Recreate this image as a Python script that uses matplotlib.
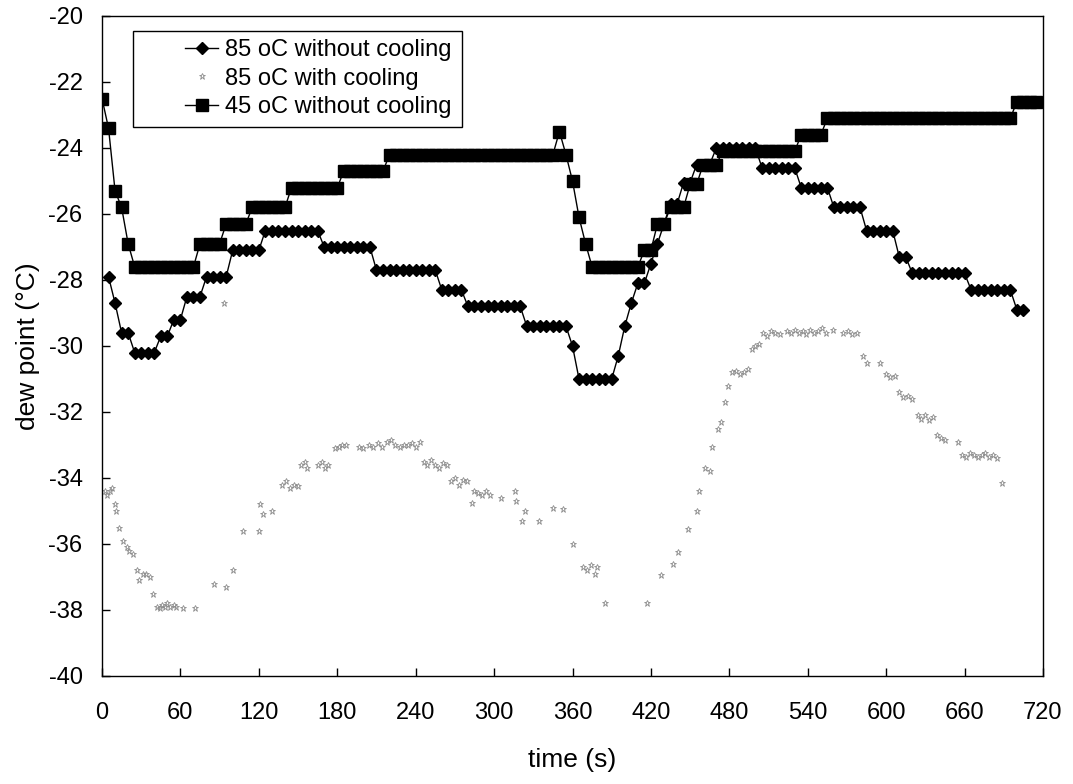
import numpy as np
import matplotlib
matplotlib.use("Agg")
import matplotlib.pyplot as plt
from matplotlib.patches import Rectangle

plt.rcParams['font.family'] = ['Liberation Sans', 'DejaVu Sans']
plt.rcParams['axes.unicode_minus'] = False

# 45 oC without cooling, sampled every 5 s from t = 0
t_45 = np.arange(0, 720, 5)
dew_45 = [
    -22.5, -23.4, -25.3, -25.8, -26.9, -27.6, -27.6, -27.6, -27.6, -27.6,
    -27.6, -27.6, -27.6, -27.6, -27.6, -26.9, -26.9, -26.9, -26.9, -26.3,
    -26.3, -26.3, -26.3, -25.8, -25.8, -25.8, -25.8, -25.8, -25.8, -25.2,
    -25.2, -25.2, -25.2, -25.2, -25.2, -25.2, -25.2, -24.7, -24.7, -24.7,
    -24.7, -24.7, -24.7, -24.7, -24.2, -24.2, -24.2, -24.2, -24.2, -24.2,
    -24.2, -24.2, -24.2, -24.2, -24.2, -24.2, -24.2, -24.2, -24.2, -24.2,
    -24.2, -24.2, -24.2, -24.2, -24.2, -24.2, -24.2, -24.2, -24.2, -24.2,
    -23.5, -24.2, -25.0, -26.1, -26.9, -27.6, -27.6, -27.6, -27.6, -27.6,
    -27.6, -27.6, -27.6, -27.1, -27.1, -26.3, -26.3, -25.8, -25.8, -25.8,
    -25.1, -25.1, -24.5, -24.5, -24.5, -24.1, -24.1, -24.1, -24.1, -24.1,
    -24.1, -24.1, -24.1, -24.1, -24.1, -24.1, -24.1, -23.6, -23.6, -23.6,
    -23.6, -23.1, -23.1, -23.1, -23.1, -23.1, -23.1, -23.1, -23.1, -23.1,
    -23.1, -23.1, -23.1, -23.1, -23.1, -23.1, -23.1, -23.1, -23.1, -23.1,
    -23.1, -23.1, -23.1, -23.1, -23.1, -23.1, -23.1, -23.1, -23.1, -23.1,
    -22.6, -22.6, -22.6, -22.6,
]

# 85 oC without cooling, sampled every 5 s from t = 5
t_85 = np.arange(5, 710, 5)
dew_85 = [
    -27.9, -28.7, -29.6, -29.6, -30.2, -30.2, -30.2, -30.2, -29.7, -29.7,
    -29.2, -29.2, -28.5, -28.5, -28.5, -27.9, -27.9, -27.9, -27.9, -27.1,
    -27.1, -27.1, -27.1, -27.1, -26.5, -26.5, -26.5, -26.5, -26.5, -26.5,
    -26.5, -26.5, -26.5, -27.0, -27.0, -27.0, -27.0, -27.0, -27.0, -27.0,
    -27.0, -27.7, -27.7, -27.7, -27.7, -27.7, -27.7, -27.7, -27.7, -27.7,
    -27.7, -28.3, -28.3, -28.3, -28.3, -28.8, -28.8, -28.8, -28.8, -28.8,
    -28.8, -28.8, -28.8, -28.8, -29.4, -29.4, -29.4, -29.4, -29.4, -29.4,
    -29.4, -30.0, -31.0, -31.0, -31.0, -31.0, -31.0, -31.0, -30.3, -29.4,
    -28.7, -28.1, -28.1, -27.5, -26.9, -26.3, -25.7, -25.7, -25.05, -25.05,
    -24.5, -24.5, -24.5, -24.0, -24.0, -24.0, -24.0, -24.0, -24.0, -24.0,
    -24.6, -24.6, -24.6, -24.6, -24.6, -24.6, -25.2, -25.2, -25.2, -25.2,
    -25.2, -25.8, -25.8, -25.8, -25.8, -25.8, -26.5, -26.5, -26.5, -26.5,
    -26.5, -27.3, -27.3, -27.8, -27.8, -27.8, -27.8, -27.8, -27.8, -27.8,
    -27.8, -27.8, -28.3, -28.3, -28.3, -28.3, -28.3, -28.3, -28.3, -28.9,
    -28.9,
]

# 85 oC with cooling (scattered readings)
t_cool = [
    2, 4, 6, 8, 10, 11, 13, 16, 19, 21, 24, 27, 28, 31, 34, 37, 39, 42, 44, 46,
    48, 50, 52, 55, 57, 62, 71, 86, 93, 95, 100, 108, 120, 121, 123, 130, 138, 141,
    144, 147, 150, 152, 155, 157, 165, 168, 171, 173, 178, 181, 184, 187, 197,
    200, 204, 207, 211, 214, 218, 221, 224, 228, 231, 234, 237, 240, 243, 246,
    249, 252, 255, 258, 261, 264, 267, 270, 273, 276, 279, 283, 285, 288, 291,
    294, 297, 305, 316, 317, 321, 324, 334, 345, 353, 360, 368, 371, 374, 377,
    379, 385, 417, 428, 437, 441, 448, 455, 457, 461, 465, 467, 471, 474, 477,
    479, 482, 485, 488, 491, 494, 497, 500, 503, 506, 509, 512, 515, 519, 524,
    527, 530, 533, 536, 539, 542, 545, 548, 551, 554, 559, 567, 571, 574, 578,
    582, 585, 595, 600, 603, 607, 610, 613, 617, 620, 624, 627, 630, 633, 636,
    639, 642, 645, 655, 658, 661, 664, 667, 670, 673, 676, 679, 682, 685, 689,
]
dew_cool = [
    -34.4, -34.5, -34.4, -34.3, -34.8, -35.0, -35.5, -35.9, -36.1, -36.2,
    -36.3, -36.8, -37.1, -36.9, -36.9, -37.0, -37.5, -37.9, -37.95, -37.85,
    -37.9, -37.8, -37.9, -37.85, -37.9, -37.95, -37.95, -37.2, -28.7, -37.3,
    -36.8, -35.6, -35.6, -34.8, -35.1, -35.0, -34.2, -34.1, -34.3, -34.2,
    -34.25, -33.6, -33.5, -33.7, -33.6, -33.5, -33.7, -33.6, -33.1, -33.05,
    -33.0, -33.0, -33.05, -33.1, -33.0, -33.05, -32.95, -33.05, -32.9, -32.85,
    -33.0, -33.05, -33.0, -33.0, -32.95, -33.05, -32.9, -33.5, -33.6, -33.45,
    -33.6, -33.7, -33.55, -33.6, -34.1, -34.0, -34.2, -34.05, -34.1, -34.75,
    -34.4, -34.45, -34.5, -34.4, -34.5, -34.6, -34.4, -34.7, -35.3, -35.0,
    -35.3, -34.9, -34.95, -36.0, -36.7, -36.8, -36.65, -36.9, -36.7, -37.8,
    -37.8, -36.95, -36.6, -36.25, -35.55, -35.0, -34.4, -33.7, -33.8, -33.05,
    -32.5, -32.3, -31.7, -31.2, -30.8, -30.75, -30.85, -30.8, -30.7, -30.1,
    -30.0, -29.95, -29.6, -29.7, -29.55, -29.6, -29.65, -29.55, -29.6, -29.5,
    -29.6, -29.55, -29.65, -29.5, -29.6, -29.55, -29.45, -29.6, -29.5, -29.6,
    -29.55, -29.65, -29.6, -30.3, -30.5, -30.5, -30.85, -30.95, -30.9, -31.4,
    -31.55, -31.5, -31.6, -32.1, -32.2, -32.1, -32.25, -32.15, -32.7, -32.8,
    -32.85, -32.9, -33.3, -33.35, -33.25, -33.3, -33.35, -33.3, -33.25, -33.35,
    -33.3, -33.4, -34.15,
]

x_ticks = list(range(0, 721, 60))
y_ticks = list(range(-40, -19, 2))

W, H = 1073, 784
fig = plt.figure(figsize=(W / 100, H / 100), dpi=100)
ax = fig.add_axes([102 / W, (H - 676) / H, 941 / W, 660 / H])

l1, = ax.plot(t_85, dew_85, color='black', lw=1.0, marker='D', ms=6.6,
              mfc='black', mec='black', label='85 oC without cooling', zorder=3)
l2, = ax.plot(t_cool, dew_cool, ls='none', marker='*', ms=4.5, mfc='none',
              mec='0.55', mew=0.6, label='85 oC with cooling', zorder=2)
l3, = ax.plot(t_45, dew_45, color='black', lw=1.0, marker='s', ms=8.5,
              mfc='black', mec='black', label='45 oC without cooling', zorder=4)

ax.set_xlim(0, 720)
ax.set_ylim(-40, -20)
ax.set_xticks(x_ticks)
ax.set_yticks(y_ticks)
ax.tick_params(direction='in', length=6, width=1, labelsize=17, colors='black')
ax.tick_params(axis='x', pad=19)
ax.tick_params(axis='y', pad=14)
for s in ax.spines.values():
    s.set_linewidth(1.0)
    s.set_color('black')

ax.set_xlabel('time (s)', fontsize=19, labelpad=17)
ax.set_ylabel('dew point (°C)', fontsize=19, labelpad=6)

leg = ax.legend(handles=[l1, l2, l3], loc='upper left',
                bbox_to_anchor=((185 - 102) / 941, (676 - 39) / 660),
                frameon=False, fontsize=17, borderpad=0, borderaxespad=0,
                handlelength=1.4, handletextpad=0.3, labelspacing=0.28)
ax.add_patch(Rectangle((0.0329, 0.8318), 0.3497, 0.1455, transform=ax.transAxes,
                       fill=True, facecolor='white', edgecolor='black', lw=1.0, zorder=5))
leg.set_zorder(6)

fig.savefig('out.png', dpi=100)
